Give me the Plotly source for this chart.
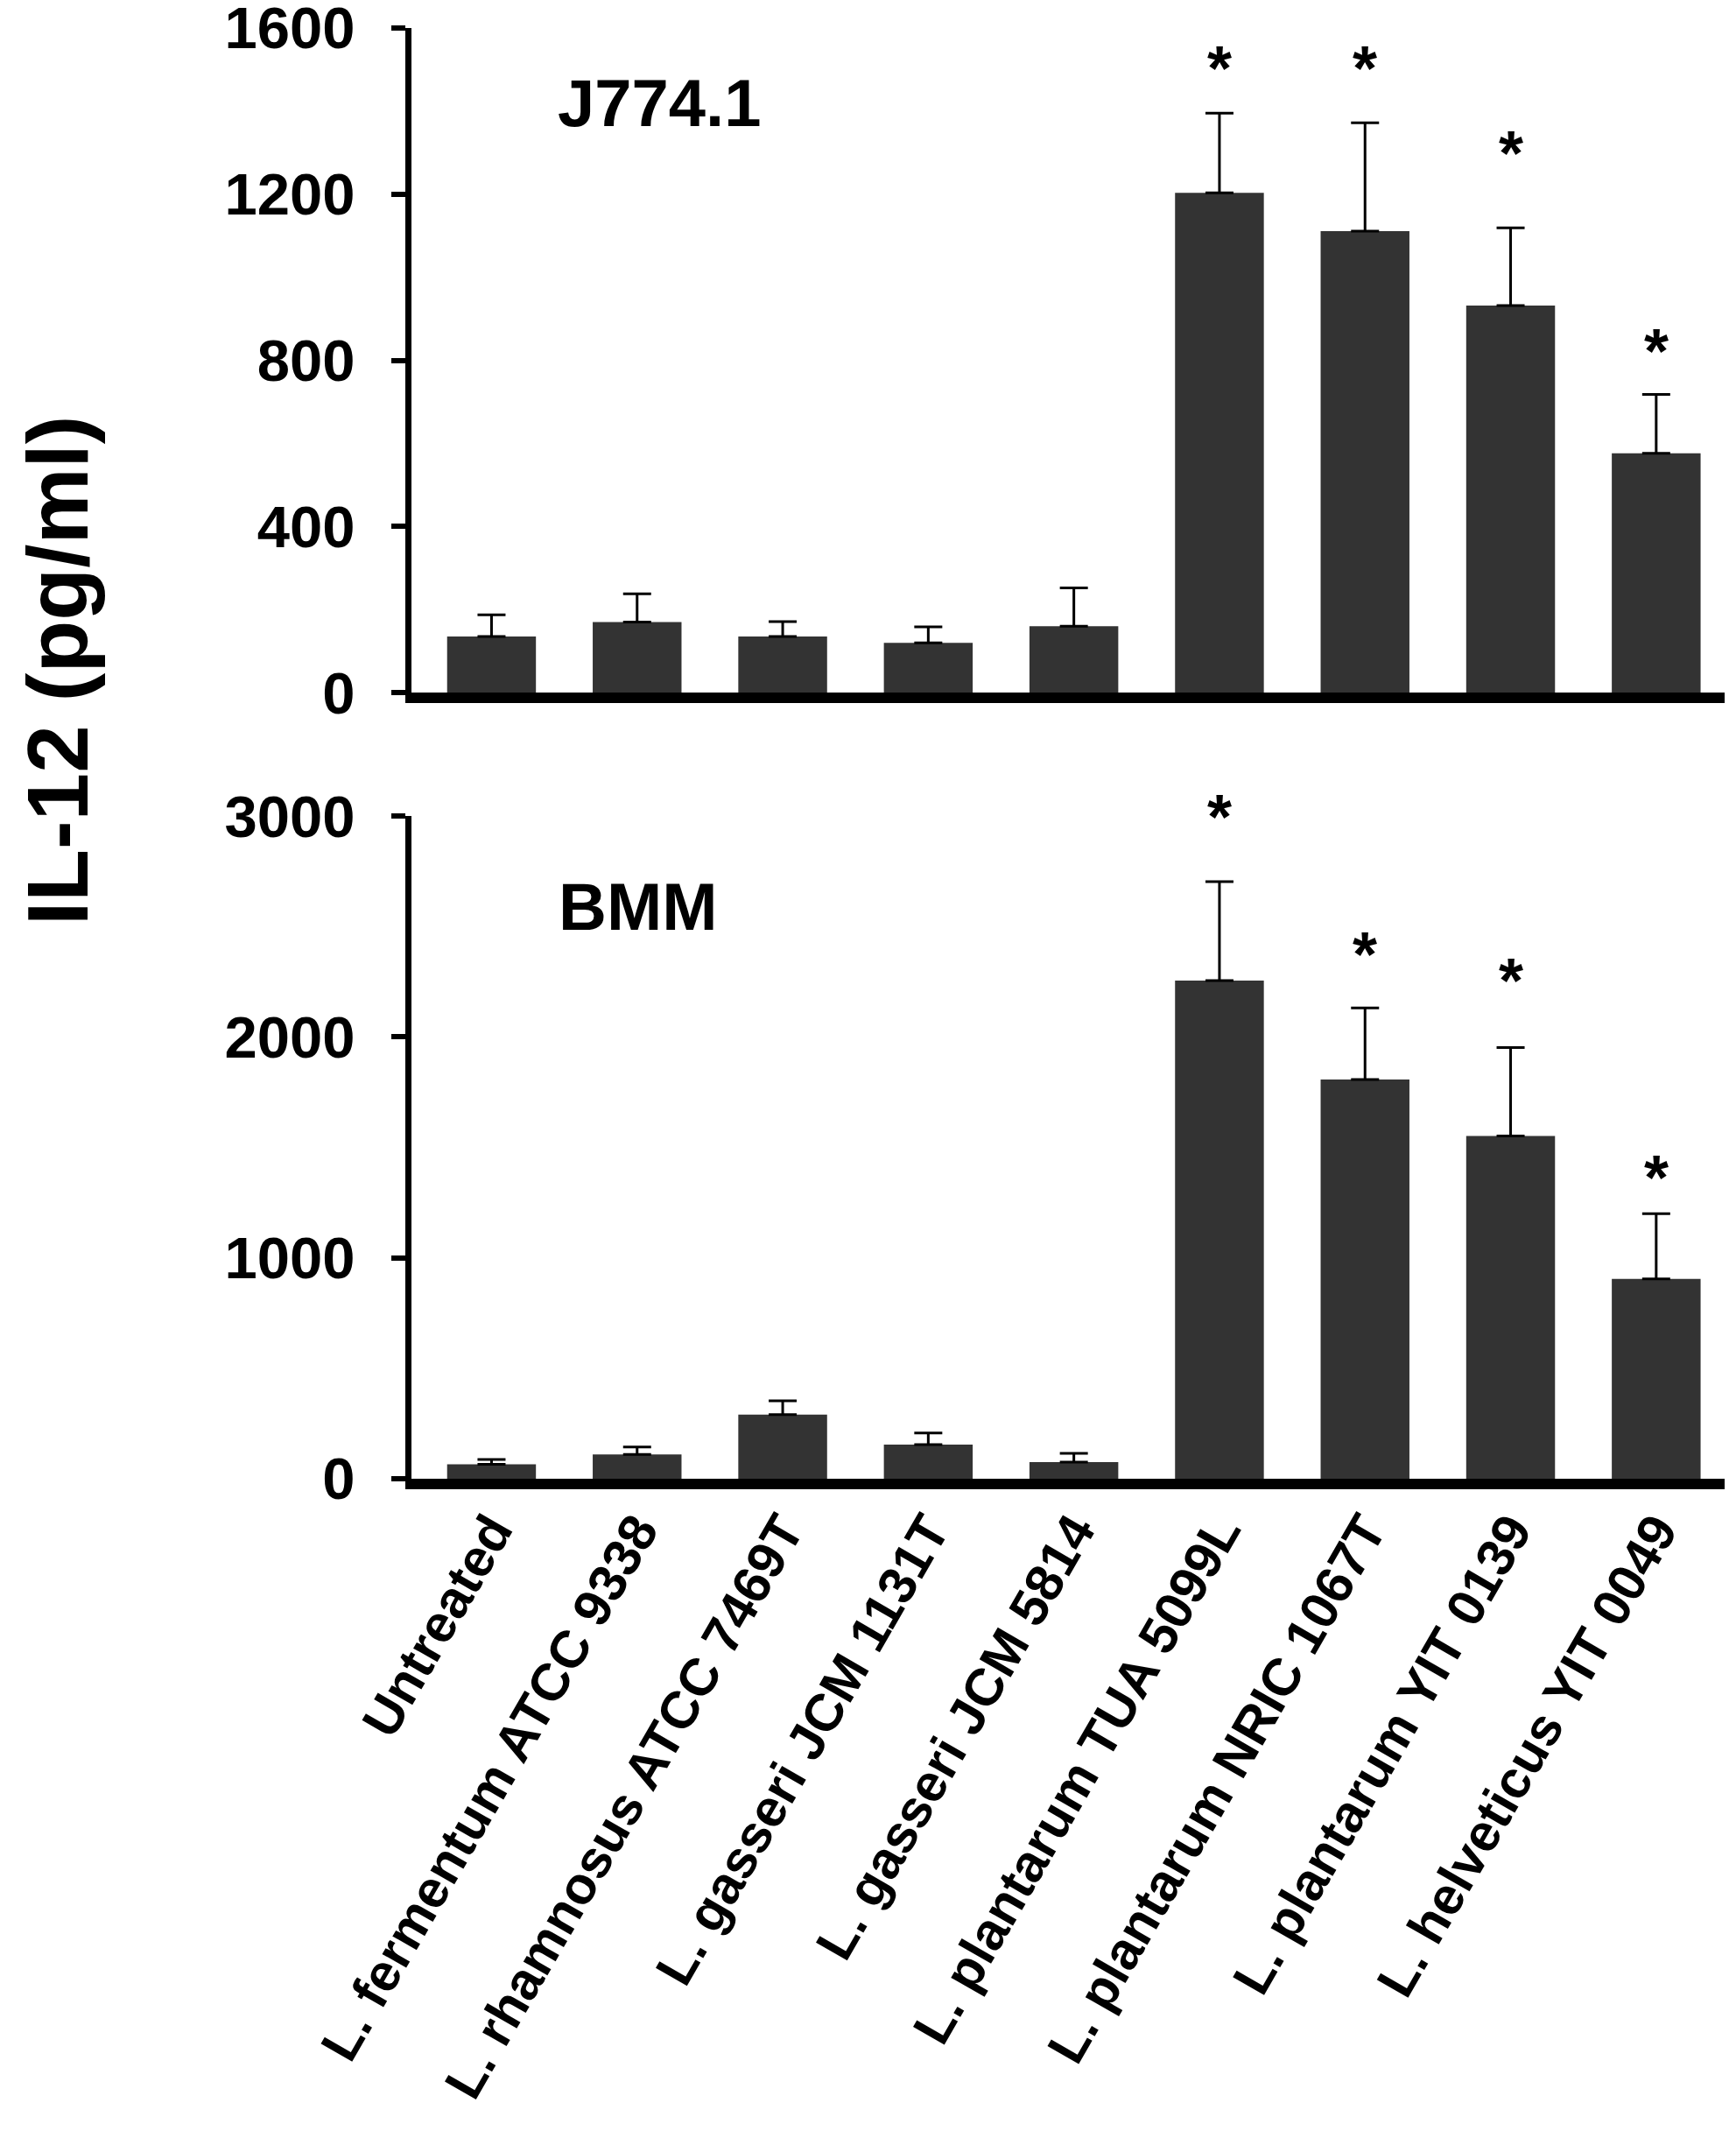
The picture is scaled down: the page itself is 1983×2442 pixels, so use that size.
import plotly.graph_objects as go
from plotly.subplots import make_subplots

# data
strains = [
    'Untreated',
    'L. fermentum ATCC 9338',
    'L. rhamnosus ATCC 7469T',
    'L. gasseri JCM 1131T',
    'L. gasseri JCM 5814',
    'L. plantarum TUA 5099L',
    'L. plantarum NRIC 1067T',
    'L. plantarum YIT 0139',
    'L. helveticus YIT 0049',
]

# J774.1 (top panel)
j774_mean = [135, 170, 135, 120, 160, 1203, 1111, 932, 576]
j774_err = [52, 68, 36, 38, 92, 192, 261, 187, 142]
j774_star = [None, None, None, None, None, 1520, 1520, 1315, 840]

# BMM (bottom panel)
bmm_mean = [65, 110, 290, 155, 75, 2255, 1807, 1552, 905]
bmm_err = [22, 34, 63, 52, 40, 448, 324, 400, 295]
bmm_star = [None, None, None, None, None, 3030, 2405, 2285, 1395]

FONT = 'Liberation Sans, Arial, sans-serif'
BAR = '#333333'
TOP_MAX = 1600
BOT_MAX = 3000

fig = make_subplots(rows=2, cols=1, vertical_spacing=0.085)

for row, mean, err in [(1, j774_mean, j774_err), (2, bmm_mean, bmm_err)]:
    fig.add_trace(
        go.Bar(
            x=strains, y=mean,
            marker=dict(color=BAR, line=dict(width=0)),
            error_y=dict(type='data', array=err, symmetric=False, arrayminus=[0] * len(err),
                         color='black', thickness=3, width=16),
            showlegend=False,
        ),
        row=row, col=1
    )

# significance stars (domain refs so the one above 3000 is not clipped)
for yref, ymax, stars in [('y domain', TOP_MAX, j774_star), ('y2 domain', BOT_MAX, bmm_star)]:
    xref = 'x' if yref == 'y domain' else 'x2'
    for name, s in zip(strains, stars):
        if s is None:
            continue
        fig.add_annotation(
            x=name, y=s / ymax, text='*', showarrow=False, yshift=-8,
            xref=xref, yref=yref, yanchor='middle',
            font=dict(family=FONT, size=72, color='black', weight='bold'),
        )

# panel labels
fig.add_annotation(x=1.15, y=1420, xref='x', yref='y', text='J774.1', showarrow=False,
                   font=dict(family=FONT, size=76, color='black', weight='bold'))
fig.add_annotation(x=1.01, y=2590, xref='x2', yref='y2', text='BMM', showarrow=False,
                   font=dict(family=FONT, size=76, color='black', weight='bold'))

# shared y title
fig.add_annotation(x=-0.2693, y=0.557, xref='paper', yref='paper', text='IL-12 (pg/ml)',
                   textangle=-90, showarrow=False, xanchor='center', yanchor='middle',
                   font=dict(family=FONT, size=98, color='black', weight='bold'))

for row in (1, 2):
    fig.update_xaxes(
        range=[-0.55, 8.47], showline=True, linecolor='black', linewidth=12,
        ticks='', showgrid=False, zeroline=False, tickangle=-60,
        tickfont=dict(family=FONT, size=60, color='black', weight='bold'),
        showticklabels=(row == 2), automargin=False, ticklabelstandoff=-12,
        row=row, col=1
    )
fig.update_yaxes(range=[0, TOP_MAX], tickvals=[0, 400, 800, 1200, 1600], row=1, col=1)
fig.update_yaxes(range=[0, BOT_MAX], tickvals=[0, 1000, 2000, 3000], row=2, col=1)
fig.update_yaxes(
    showline=True, linecolor='black', linewidth=7, ticks='outside', ticklen=16,
    tickwidth=6, tickcolor='black', showgrid=False, zeroline=False,
    tickfont=dict(family=FONT, size=67, color='black', weight='bold'),
    ticklabelstandoff=28, automargin=False, ticklabeloverflow='allow',
)

fig.update_layout(
    width=1983, height=2442,
    margin=dict(l=462, r=21, t=24, b=761),
    plot_bgcolor='white', paper_bgcolor='white',
    bargap=0.39,
    yaxis=dict(domain=[0.5419, 1.0]),
    yaxis2=dict(domain=[0.0, 0.4568]),
)

fig.write_html('out.html')
